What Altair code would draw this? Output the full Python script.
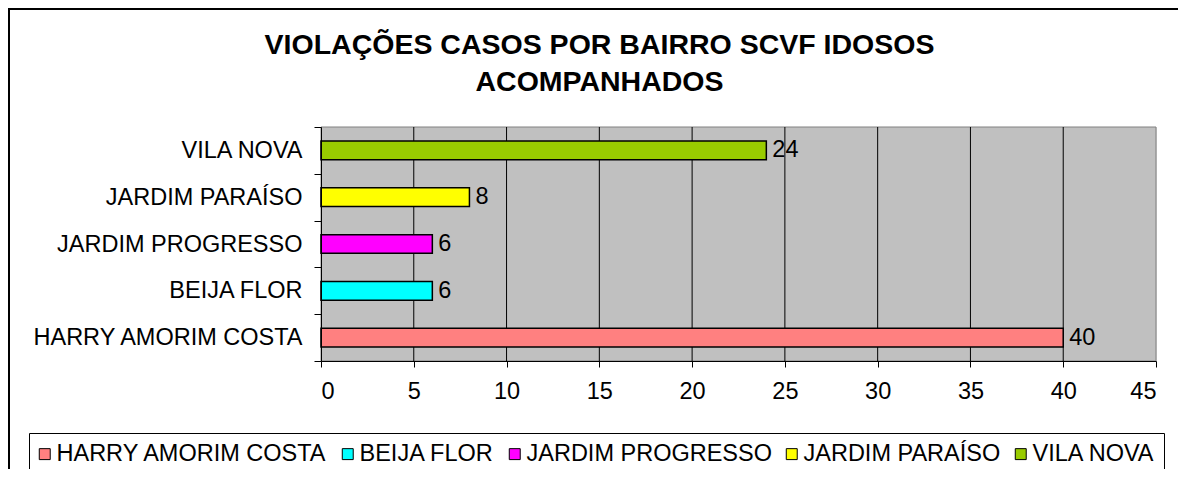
import altair as alt
import pandas as pd

bairros = ["HARRY AMORIM COSTA", "BEIJA FLOR", "JARDIM PROGRESSO", "JARDIM PARAÍSO", "VILA NOVA"]
casos = [40, 6, 6, 8, 24]
cores = ["#FF8080", "#00FFFF", "#FF00FF", "#FFFF00", "#99CC00"]
titulo = ["VIOLAÇÕES CASOS POR BAIRRO SCVF IDOSOS", "ACOMPANHADOS"]
ticks_x = [0, 5, 10, 15, 20, 25, 30, 35, 40, 45]
grade_x = [5, 10, 15, 20, 25, 30, 35, 40]

df = pd.DataFrame({"bairro": bairros, "casos": casos})
df_grade = pd.DataFrame({"casos": grade_x})
df_fundo = pd.DataFrame({"a": [0]})

FONT = "Liberation Sans"
FS = 23.5
W, H = 835, 234
PL, PT = 313, 119

y_enc = alt.Y("bairro:N", sort=list(reversed(bairros)),
              scale=alt.Scale(paddingInner=0, paddingOuter=0),
              axis=alt.Axis(title=None, tickBand="extent", labelFontSize=FS, labelFont=FONT,
                            labelColor="black", tickColor="black", domainColor="black",
                            tickSize=7, labelPadding=12, labelLimit=400, grid=False, zindex=1))
x_enc = alt.X("casos:Q", scale=alt.Scale(domain=[0, 45], nice=False),
              axis=alt.Axis(title=None, values=ticks_x, labelFontSize=FS, labelFont=FONT,
                            labelColor="black", tickColor="black", domainColor="black",
                            grid=False, tickSize=6, labelPadding=12, zindex=1))

fundo = alt.Chart(df_fundo).mark_rect(fill="#C0C0C0", stroke="#808080", strokeWidth=1).encode(
    x=alt.value(0), x2=alt.value(W), y=alt.value(0), y2=alt.value(H))

grade = alt.Chart(df_grade).mark_rule(color="black", strokeWidth=1).encode(
    x=x_enc, y=alt.value(0), y2=alt.value(H))

bars = alt.Chart(df).mark_bar(height=alt.RelativeBandSize(0.4), stroke="black", strokeWidth=1.5).encode(
    x=x_enc, y=y_enc,
    color=alt.Color("bairro:N", scale=alt.Scale(domain=bairros, range=cores),
                    legend=alt.Legend(title=None, orient="none", direction="horizontal", columns=5,
                                      legendX=-292, legendY=306, symbolType="square", symbolSize=120,
                                      symbolStrokeColor="black", symbolStrokeWidth=1, symbolOpacity=1,
                                      symbolOffset=-5,
                                      labelFontSize=FS, labelFont=FONT, labelColor="black",
                                      columnPadding=12, labelOffset=0, strokeColor="black",
                                      fillColor="white", padding=9, labelLimit=400)),
)

labels = alt.Chart(df).mark_text(align="left", baseline="middle", dx=6, fontSize=FS, font=FONT, color="black").encode(
    x="casos:Q", y=alt.Y("bairro:N", sort=list(reversed(bairros))), text="casos:Q")

border = alt.Chart(df_fundo).mark_rect(fill="transparent", fillOpacity=0, stroke="black", strokeWidth=2,
                                       clip=False).encode(
    x=alt.value(-312), x2=alt.value(W + 40), y=alt.value(-118), y2=alt.value(H + 200))

chart = alt.layer(fundo, grade, border, bars, labels).properties(
    width=W, height=H,
    autosize=alt.AutoSizeParams(type="none"),
    padding={"left": PL, "top": PT, "right": 22, "bottom": 108},
    title=alt.TitleParams(text=titulo, fontSize=28.5, font=FONT, fontWeight="bold", color="black",
                          anchor="middle", frame="group", baseline="alphabetic", dx=-139, offset=0,
                          dy=111, lineHeight=37),
).configure_view(stroke=None).configure(background="white")

chart.save("out.html", embed_options={"renderer": "svg", "actions": False})
